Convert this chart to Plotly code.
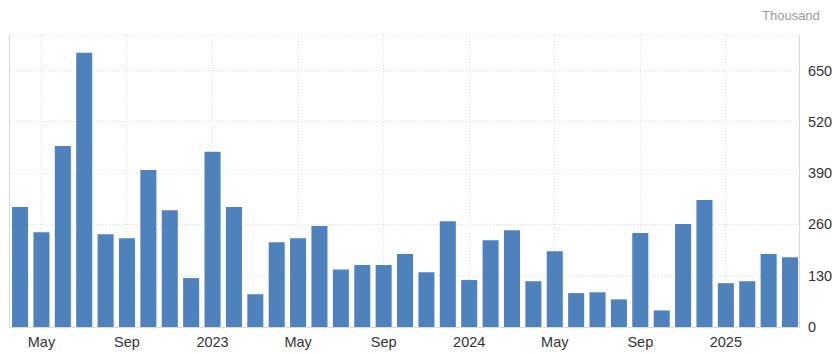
import plotly.graph_objects as go

months = ["2022-04", "2022-05", "2022-06", "2022-07", "2022-08", "2022-09", "2022-10", "2022-11", "2022-12",
          "2023-01", "2023-02", "2023-03", "2023-04", "2023-05", "2023-06", "2023-07", "2023-08", "2023-09",
          "2023-10", "2023-11", "2023-12", "2024-01", "2024-02", "2024-03", "2024-04", "2024-05", "2024-06",
          "2024-07", "2024-08", "2024-09", "2024-10", "2024-11", "2024-12", "2025-01", "2025-02", "2025-03",
          "2025-04"]
values = [304, 240, 459, 695, 235, 225, 398, 296, 124,
          444, 304, 83, 215, 225, 256, 146, 157, 157,
          185, 139, 268, 119, 220, 245, 116, 192, 86,
          88, 70, 238, 42, 261, 322, 111, 116, 185,
          177]
tick_months = ["2022-05", "2022-09", "2023-01", "2023-05", "2023-09", "2024-01", "2024-05", "2024-09", "2025-01"]
tick_labels = ["May", "Sep", "2023", "May", "Sep", "2024", "May", "Sep", "2025"]
y_ticks = [0, 130, 260, 390, 520, 650]

fig = go.Figure(go.Bar(x=months, y=values, marker_color="#4f81bd", marker_line_width=0))

grid = "#e0e0e0"
fig.update_layout(
    width=836, height=354,
    margin=dict(l=10, r=37, t=35, b=27),
    paper_bgcolor="white", plot_bgcolor="white",
    bargap=0.25, showlegend=False,
    font=dict(family="Liberation Sans, Arial, sans-serif", size=14.5, color="#333"),
    xaxis=dict(type="category", tickmode="array", tickvals=tick_months, ticktext=tick_labels,
               showgrid=True, gridcolor=grid, griddash="1px,2px", gridwidth=1,
               showline=True, linecolor="#d9d9d9", linewidth=1, ticks="",
               ticklabelstandoff=2, automargin=False,
               range=[-0.47, len(months) - 1 + 0.42]),
    yaxis=dict(side="right", range=[0, 740], tickmode="array", tickvals=y_ticks,
               showgrid=True, gridcolor=grid, griddash="1px,2px", gridwidth=1,
               showline=True, mirror=True, linecolor="#d9d9d9", linewidth=1,
               zeroline=False, ticks="", ticklabelstandoff=5, automargin=False),
    shapes=[dict(type="line", xref="paper", yref="paper", x0=0, x1=1, y0=1, y1=1,
                 line=dict(color=grid, width=1, dash="1px,2px"))],
    annotations=[dict(text="Thousand", xref="paper", yref="paper", x=1.0292, y=1.0, yshift=20,
                      xanchor="right", yanchor="middle", showarrow=False,
                      font=dict(size=13, color="#999"))],
)

fig.write_html("out.html")
